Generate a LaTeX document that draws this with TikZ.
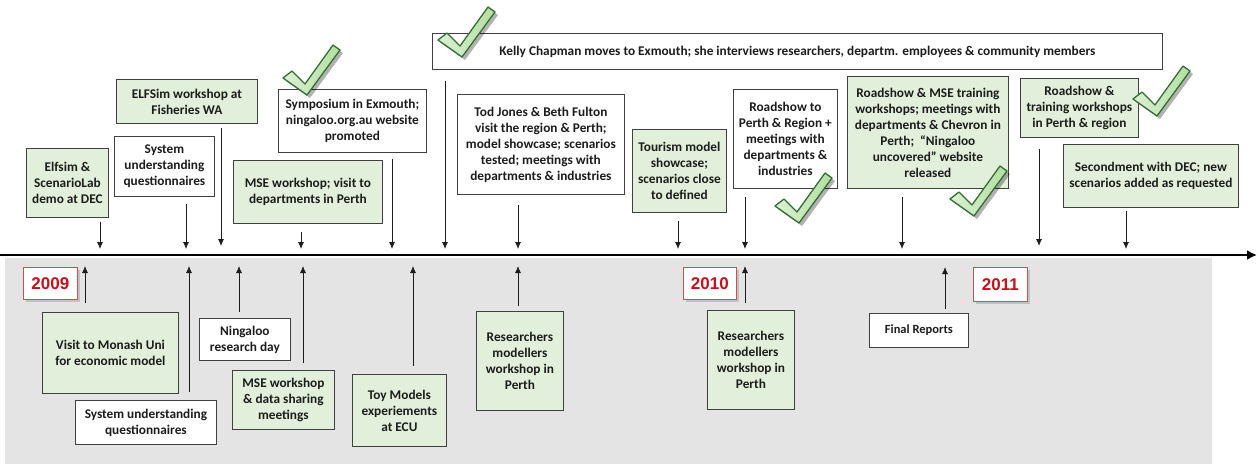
\documentclass[tikz,border=0pt]{standalone}
\usepackage{fontspec}
\setmainfont{Carlito}
\newfontfamily\yearfont{Liberation Sans}
\usetikzlibrary{shadows,arrows.meta}
\definecolor{boxgreen}{RGB}{226,239,218}
\definecolor{edgegray}{RGB}{64,64,64}
\definecolor{txt}{RGB}{28,28,28}
\definecolor{yearred}{RGB}{196,18,28}
\definecolor{yearedge}{RGB}{205,80,80}
\definecolor{tickedge}{RGB}{52,110,52}
\definecolor{tickfill}{RGB}{178,222,160}
\definecolor{bggray}{RGB}{228,228,228}
\begin{document}
\begin{tikzpicture}[x=1pt,y=-1pt,
  box/.style={draw=edgegray, line width=0.8pt, align=center, inner sep=1pt,
    anchor=north west, text=txt,
    font=\bfseries\fontsize{13.3}{16}\selectfont},
  gbox/.style={box, fill=boxgreen},
  wbox/.style={box, fill=white},
  wh/.style 2 args={minimum width=#1pt, minimum height=#2pt},
  yearbox/.style={draw=yearedge, line width=0.8pt, fill=white, anchor=north west,
    text=yearred, font=\yearfont\bfseries\fontsize{17}{20}\selectfont,
    drop shadow={shadow xshift=3pt, shadow yshift=-3pt, opacity=0.35}},
  arr/.style={-{Latex[length=7pt,width=6pt]}, line width=0.8pt, draw=txt},
  timeline/.style={-{Latex[length=10pt,width=10pt]}, line width=2.2pt, draw=black},
  checkmk/.pic={
    \fill[black, opacity=0.3, shift={(3,3)}] (0,33) -- (9,26) -- (22,39) -- (50,0) -- (57,5) -- (24,50) -- cycle;
    \draw[draw=tickedge, line width=1.3pt, line join=round, left color=tickfill!45!white, right color=tickfill]
      (0,33) -- (9,26) -- (22,39) -- (50,0) -- (57,5) -- (24,50) -- cycle;
  }
]
\useasboundingbox (0,0) rectangle (1258,467);
% background and timeline
\fill[bggray] (5,258) rectangle (1212,464);
\coordinate (tl0) at (0,255);
\coordinate (tl1) at (1257,255);
\draw[timeline] (tl0) -- (tl1);

% upper boxes
\node[gbox, wh={82}{69}] (elf) at (26,148) {Elfsim \&\\ScenarioLab\\demo at DEC};
\node[gbox, wh={141}{44}] (elfws) at (116,79) {ELFSim workshop at\\Fisheries WA};
\node[wbox, wh={100}{60}] (sysq) at (114,136) {System\\understanding\\questionnaires};
\node[wbox, wh={148}{63}] (symp) at (278,89) {Symposium in Exmouth;\\ningaloo.org.au website\\promoted};
\node[gbox, wh={149}{63}] (mse1) at (233,160) {MSE workshop; visit to\\departments in Perth};
\node[wbox, wh={730}{36}] (kelly) at (432,33) {Kelly Chapman moves to Exmouth; she interviews researchers, departm. employees \& community members};
\node[wbox, wh={167}{100}] (tod) at (457,94) {Tod Jones \& Beth Fulton\\visit the region \& Perth;\\model showcase; scenarios\\tested; meetings with\\departments \& industries};
\node[gbox, wh={94}{83}] (tour) at (632,129) {Tourism model\\showcase;\\scenarios close\\to defined};
\node[wbox, wh={104}{99}] (road1) at (733,89) {Roadshow to\\Perth \& Region +\\meetings with\\departments \&\\industries};
\node[gbox, wh={161}{112}] (road2) at (847,76) {Roadshow \& MSE training\\workshops; meetings with\\departments \& Chevron in\\Perth;~~“Ningaloo\\uncovered” website\\released};
\node[gbox, wh={118}{59}] (road3) at (1020,78) {Roadshow \&\\training workshops\\in Perth \& region};
\node[gbox, wh={175}{63}] (second) at (1063,144) {Secondment with DEC; new\\scenarios added as requested};

% lower boxes
\node[yearbox, wh={54}{32}] (y2009) at (23,267) {2009};
\node[yearbox, wh={53}{32}] (y2010) at (683,267) {2010};
\node[yearbox, wh={54}{34}] (y2011) at (973,267) {2011};
\node[gbox, wh={136}{81}] (monash) at (42,312) {Visit to Monash Uni\\for economic model};
\node[wbox, wh={141}{44}] (sysq2) at (75,400) {System understanding\\questionnaires};
\node[wbox, wh={91}{42}] (ning) at (199,318) {Ningaloo\\research day};
\node[gbox, wh={102}{59}] (mse2) at (232,370) {MSE workshop\\\& data sharing\\meetings};
\node[gbox, wh={94}{72}] (toy) at (352,374) {Toy Models\\experiements\\at ECU};
\node[gbox, wh={87}{99}] (res1) at (476,311) {Researchers\\modellers\\workshop in\\Perth};
\node[gbox, wh={87}{99}] (res2) at (707,310) {Researchers\\modellers\\workshop in\\Perth};
\node[wbox, wh={99}{34}, font=\bfseries\fontsize{12.5}{15}\selectfont] (final) at (869,313) {Final Reports};

% arrow end points on the timeline
\coordinate (d1) at (100,249);
\coordinate (d2) at (186,249);
\coordinate (d3) at (221,246);
\coordinate (d4) at (301,249);
\coordinate (d5) at (392,249);
\coordinate (d6) at (445,249);
\coordinate (d7) at (518,249);
\coordinate (d8) at (678,249);
\coordinate (d9) at (745,249);
\coordinate (d10) at (902,249);
\coordinate (d11) at (1039,246);
\coordinate (d12) at (1126,249);
\coordinate (u1) at (85,266);
\coordinate (u2) at (189,266);
\coordinate (u3) at (239,266);
\coordinate (u4) at (303,266);
\coordinate (u5) at (413,266);
\coordinate (u6) at (518,266);
\coordinate (u7) at (745,266);
\coordinate (u8) at (945,267);

% down arrows
\draw[arr, shorten <=4pt] (elf.south -| d1) -- (d1);
\draw[arr, shorten <=7pt] (sysq.south -| d2) -- (d2);
\draw[arr, shorten <=4pt] (elfws.south -| d3) -- (d3);
\draw[arr, shorten <=8pt] (mse1.south -| d4) -- (d4);
\draw[arr, shorten <=6pt] (symp.south -| d5) -- (d5);
\draw[arr, shorten <=11pt] (kelly.south -| d6) -- (d6);
\draw[arr, shorten <=10pt] (tod.south -| d7) -- (d7);
\draw[arr, shorten <=8pt] (tour.south -| d8) -- (d8);
\draw[arr, shorten <=8pt] (road1.south -| d9) -- (d9);
\draw[arr, shorten <=8pt] (road2.south -| d10) -- (d10);
\draw[arr, shorten <=11pt] (road3.south -| d11) -- (d11);
\draw[arr, shorten <=3pt] (second.south -| d12) -- (d12);

% up arrows
\draw[arr, shorten <=9pt] (monash.north -| u1) -- (u1);
\draw[arr, shorten <=8pt] (sysq2.north -| u2) -- (u2);
\draw[arr, shorten <=6pt] (ning.north -| u3) -- (u3);
\draw[arr, shorten <=7pt] (mse2.north -| u4) -- (u4);
\draw[arr, shorten <=8pt] (toy.north -| u5) -- (u5);
\draw[arr, shorten <=5pt] (res1.north -| u6) -- (u6);
\draw[arr, shorten <=7pt] (res2.north -| u7) -- (u7);
\draw[arr, shorten <=4pt] (final.north -| u8) -- (u8);

% check marks
\pic at (283,45) {checkmk};
\pic at (438,7) {checkmk};
\pic at (775,173) {checkmk};
\pic at (950,166) {checkmk};
\pic at (1133,66) {checkmk};
\end{tikzpicture}
\end{document}
